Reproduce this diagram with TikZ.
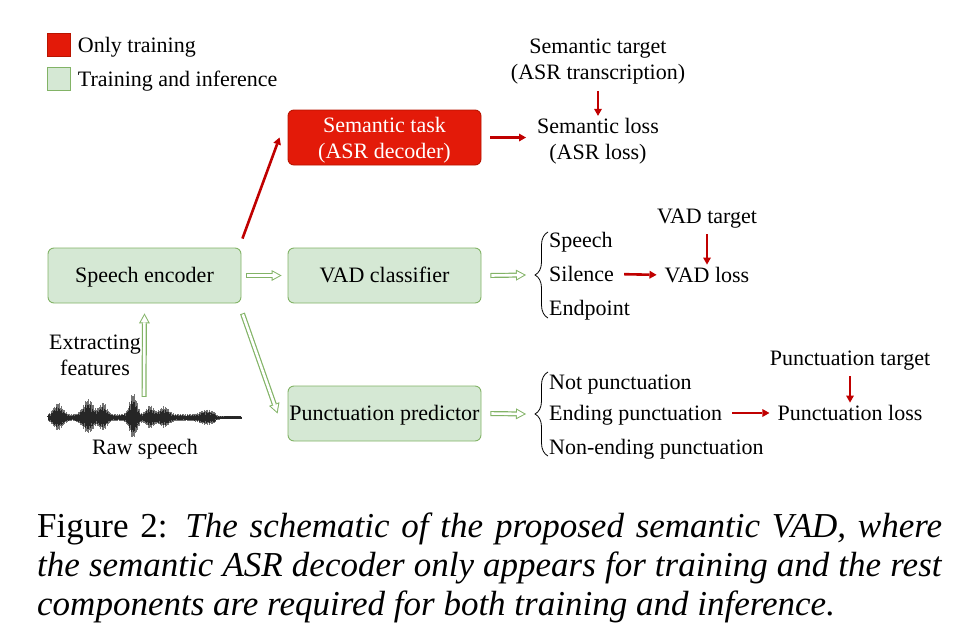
\documentclass[tikz,border=0pt]{standalone}
\usepackage{fontspec}
\setmainfont{Liberation Serif}
\usetikzlibrary{arrows.meta, decorations.pathreplacing, positioning}

\definecolor{gfill}{HTML}{D5E8D4}
\definecolor{gline}{HTML}{82B366}
\definecolor{rfill}{HTML}{E31A09}
\definecolor{rline}{HTML}{B81400}
\definecolor{rarrow}{HTML}{C00000}

\tikzset{
  gbox/.style={draw=gline, fill=gfill, rounded corners=6pt, line width=0.9pt,
    minimum width=193pt, minimum height=55pt, inner sep=1pt, align=center,
    font=\fontsize{22}{26}\selectfont},
  rbox/.style={gbox, draw=rline, fill=rfill, text=white},
  txt/.style={font=\fontsize{22}{26}\selectfont, inner sep=1pt, align=center},
  lbl/.style={txt, text height=14.5pt, text depth=0pt},
  captxt/.style={font=\fontsize{35}{40}\selectfont, inner sep=0pt},
  redarr/.style={draw=rarrow, line width=2.6pt,
    -{Triangle[length=7pt,width=8pt,line width=0pt]}},
  greenarr/.style={draw=gline, line width=5pt,
    -{Triangle[length=10pt,width=11pt,line width=0pt]},
    postaction={draw=white, line width=2.6pt,
      -{Triangle[length=7pt,width=7.6pt,line width=0pt]},
      shorten >=2pt, shorten <=1pt}},
  brace/.style={decorate, decoration={brace, amplitude=13pt}, line width=0.8pt},
}

\begin{document}
\begin{tikzpicture}[x=1pt, y=-1pt]
\useasboundingbox (0,0) rectangle (959,643);

% legend
\node[draw=rline, fill=rfill, minimum size=23pt, inner sep=0pt] (lgred) at (59,45) {};
\node[lbl, right=6pt of lgred] (lgredtxt) {Only training};
\node[draw=gline, fill=gfill, minimum size=23pt, inner sep=0pt] (lggreen) at (59,79) {};
\node[lbl, right=6pt of lggreen] (lggreentxt) {Training and inference};

% boxes
\node[rbox] (sem) at (384.5,137.5) {};
\node[txt, text=white] (semtxt) at (384.5,140.5) {Semantic task\\(ASR decoder)};
\node[gbox, text height=14.5pt, text depth=0pt] (enc) at (144.5,275.5) {Speech encoder};
\node[gbox, text height=14.5pt, text depth=0pt] (vad) at (384.5,275.5) {VAD classifier};
\node[gbox, text height=14.5pt, text depth=0pt] (punc) at (384.5,413.5) {Punctuation predictor};

% raw speech
\node[minimum width=194pt, minimum height=38pt, inner sep=0pt] (wave) at (144,416) {};
\draw[line width=0.9pt, black!85] (wave.west) -- (wave.east);
\foreach \i in {0,...,484} {
  \pgfmathsetmacro\wx{48+\i*0.4}
  \pgfmathsetmacro\wa{3.2-2*(\wx>215)+10*exp(-min(((\wx-58)/6)^2,20))+13*exp(-min(((\wx-88)/7)^2,20))
    +10*exp(-min(((\wx-103)/5)^2,20))+18*exp(-min(((\wx-133)/5)^2,20))
    +8*exp(-min(((\wx-150)/5)^2,20))+7*exp(-min(((\wx-164)/6)^2,20))
    +4*exp(-min(((\wx-207)/9)^2,20))}
  \pgfmathsetmacro\wr{0.55+0.45*abs(sin(\i*29.7))}
  \draw[line width=0.5pt, black!55] (\wx,418-1.15*\wa*\wr) -- (\wx,418+0.95*\wa*\wr);
  \draw[line width=0.5pt, black!85] (\wx,418-0.85*\wa*\wr) -- (\wx,418+0.7*\wa*\wr);
}
\node[lbl] (rawtxt) at (145,447) {Raw speech};
\node[txt] (feat) at (95,355) {Extracting\\features};

% encoder outputs
\draw[greenarr] (wave.north) -- ([yshift=-10pt]enc.south);
\draw[redarr] ([shift={(1pt,9pt)}]enc.north east) -- ([xshift=-8pt]sem.west);
\draw[greenarr] ([xshift=5pt]enc.east) -- ([xshift=-6pt]vad.west);
\draw[greenarr] ([shift={(1pt,-10pt)}]enc.south east) -- ([xshift=-10pt]punc.west);

% semantic branch
\node[txt] (semloss) at (598,141) {Semantic loss\\(ASR loss)};
\node[txt] (semtarget) at (598,62) {Semantic target\\(ASR transcription)};
\draw[redarr, shorten <=9pt] (sem.east) -- ([xshift=-10pt]semloss.west |- sem.east);
\draw[redarr, shorten <=5pt, shorten >=1pt] (semtarget.south) -- (semloss.north);

% VAD branch
\coordinate (vb) at (535,275);
\draw[greenarr] ([xshift=9pt]vad.east) -- ([xshift=-9pt]vb);
\draw[brace] ([shift={(13pt,-43pt)}]vb) -- ([shift={(13pt,43pt)}]vb);
\node[lbl, anchor=west] (speech) at (548,240) {Speech};
\node[lbl, anchor=west] (silence) at (548,274) {Silence};
\node[lbl, anchor=west] (endpoint) at (548,308) {Endpoint};
\node[lbl] (vadloss) at (707,275) {VAD loss};
\node[lbl] (vadtarget) at (707,216) {VAD target};
\draw[redarr, shorten <=9pt, shorten >=7pt] (silence.east) -- (vadloss.west);
\draw[redarr, shorten <=10pt, shorten >=2pt] (vadtarget.south) -- (vadloss.north);

% punctuation branch
\coordinate (pb) at (535,414);
\draw[greenarr] ([xshift=9pt]punc.east) -- ([xshift=-9pt]pb);
\draw[brace] ([shift={(13pt,-42pt)}]pb) -- ([shift={(13pt,42pt)}]pb);
\node[lbl, anchor=west] (notp) at (548,382) {Not punctuation};
\node[lbl, anchor=west] (endp) at (548,413) {Ending punctuation};
\node[lbl, anchor=west] (nonendp) at (548,447) {Non-ending punctuation};
\node[lbl] (puncloss) at (850,413) {Punctuation loss};
\node[lbl] (punctarget) at (850,358) {Punctuation target};
\draw[redarr, shorten <=9pt, shorten >=7pt] (endp.east) -- (puncloss.west);
\draw[redarr, shorten <=10pt, shorten >=2pt] (punctarget.south) -- (puncloss.north);

% caption
\node[captxt, anchor=base west] (cap1) at (37,537)
  {\makebox[905pt][s]{Figure 2: \textit{The schematic of the proposed semantic VAD, where}}};
\node[captxt, anchor=base west] (cap2) at (37,576)
  {\makebox[905pt][s]{\textit{the semantic ASR decoder only appears for training and the rest}}};
\node[captxt, anchor=base west] (cap3) at (37,615)
  {\textit{components are required for both training and inference.}};
\end{tikzpicture}
\end{document}
